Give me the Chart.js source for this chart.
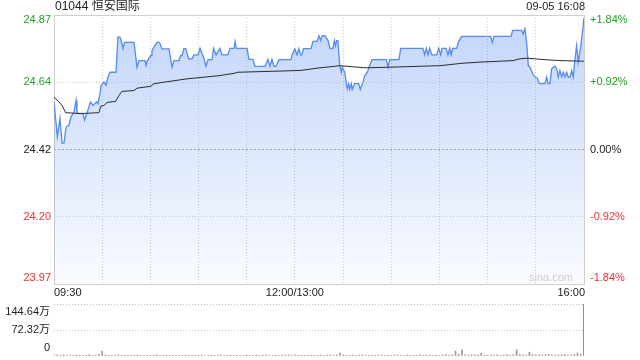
<!DOCTYPE html>
<html><head><meta charset="utf-8">
<script src="https://cdn.jsdelivr.net/npm/chart.js@4.4.1/dist/chart.umd.min.js"></script>
<style>
html,body{margin:0;padding:0;background:#fff;}
#wrap{position:relative;width:640px;height:360px;overflow:hidden;}
canvas{position:absolute;left:0;top:0;}
</style></head><body>
<div id="wrap"><canvas id="c1" width="640" height="360"></canvas><canvas id="c2" width="640" height="360"></canvas></div>
<script>
// ---- data ----
const stockTitle = '01044 恒安国际';
const stamp = '09-05 16:08';
const watermark = 'sina.com';
const prevClose = 24.42;
const pctStep = 0.0092;
const priceTickLabels = ['24.87', '24.64', '24.42', '24.20', '23.97'];
const pctTickLabels = ['+1.84%', '+0.92%', '0.00%', '-0.92%', '-1.84%'];
const timeLabels = ['09:30', '12:00/13:00', '16:00'];
const timeLabelMinutes = [0, 150, 330];
const gridMinutes = [0, 30, 60, 90, 120, 150, 180, 210, 240, 270, 300, 330];
const volTickLabels = ['144.64万', '72.32万', '0'];
const volMax = 1446400;

// minutes of trading since 09:30 (lunch break removed) and price
const priceMinutes = [0, 2.1, 3.7, 5.0, 6.2, 7.5, 9.3, 10.6, 12.5, 13.7, 14.3, 18.0, 19.0, 20.5, 22.7, 24.3, 26.5, 27.4, 28.6, 29.3,
  31.1, 32.4, 33.6, 34.9, 38.6, 39.8, 41.1, 42.3, 43.0, 43.9, 49.8, 51.7, 52.9, 56.7, 57.3, 58.2, 60.4, 61.0, 62.3, 64.1,
  65.7, 67.2, 71.6, 73.5, 74.7, 77.8, 78.8, 79.7, 80.9, 82.0, 83.9, 85.9, 87.2, 89.7, 90.9, 93.4, 94.6, 95.9, 98.4, 99.3,
  100.9, 103.3, 104.6, 108.3, 109.6, 112.1, 112.7, 113.6, 120.2, 121.4, 123.9, 125.1, 131.4, 133.2, 134.5, 135.7, 137.0, 138.2, 140.1, 147.6,
  148.2, 150.0, 151.3, 152.5, 153.5, 154.4, 155.3, 160.0, 161.3, 163.8, 165.0, 166.0, 167.0, 168.7, 170.6, 171.8, 173.7, 174.6, 175.3, 176.0,
  176.8, 177.9, 178.9, 179.5, 181.0, 182.6, 183.5, 184.1, 185.1, 185.7, 187.2, 189.7, 190.7, 192.4, 193.5, 195.1, 196.6, 198.0, 206.9, 208.0,
  209.0, 214.8, 215.9, 229.7, 230.8, 231.8, 232.9, 233.9, 235.3, 238.3, 239.5, 240.8, 241.6, 244.2, 245.3, 246.4, 247.3, 248.2, 250.7, 251.7,
  253.8, 271.9, 272.9, 274.0, 284.5, 285.6, 291.2, 292.2, 293.2, 294.3, 295.3, 296.4, 298.0, 299.5, 300.9, 302.2, 305.7, 306.7, 307.7, 308.8,
  309.9, 311.9, 313.0, 314.0, 315.0, 316.1, 317.1, 318.2, 319.2, 320.2, 321.3, 322.3, 323.3, 324.4, 325.4, 326.4, 327.9, 329.5, 330.0];
const prices = [24.579, 24.462, 24.524, 24.441, 24.441, 24.495, 24.501, 24.529, 24.545, 24.584, 24.541, 24.541, 24.518, 24.541, 24.579, 24.567, 24.579, 24.573, 24.606, 24.634,
  24.645, 24.634, 24.662, 24.678, 24.678, 24.795, 24.795, 24.774, 24.757, 24.778, 24.778, 24.695, 24.717, 24.717, 24.701, 24.717, 24.734, 24.751, 24.762, 24.778,
  24.778, 24.756, 24.756, 24.695, 24.717, 24.717, 24.734, 24.734, 24.757, 24.757, 24.723, 24.723, 24.736, 24.736, 24.758, 24.724, 24.698, 24.720, 24.720, 24.758,
  24.736, 24.758, 24.736, 24.736, 24.758, 24.758, 24.781, 24.758, 24.758, 24.721, 24.721, 24.698, 24.698, 24.721, 24.698, 24.721, 24.698, 24.698, 24.720, 24.720,
  24.736, 24.756, 24.736, 24.757, 24.736, 24.736, 24.757, 24.757, 24.781, 24.781, 24.800, 24.784, 24.800, 24.800, 24.784, 24.758, 24.758, 24.784, 24.767, 24.784,
  24.784, 24.701, 24.678, 24.695, 24.678, 24.623, 24.640, 24.621, 24.640, 24.621, 24.640, 24.640, 24.621, 24.645, 24.667, 24.678, 24.701, 24.720, 24.720, 24.695,
  24.720, 24.720, 24.758, 24.758, 24.736, 24.758, 24.736, 24.758, 24.736, 24.736, 24.758, 24.736, 24.758, 24.758, 24.736, 24.758, 24.736, 24.758, 24.758, 24.778,
  24.798, 24.798, 24.778, 24.798, 24.798, 24.818, 24.818, 24.806, 24.823, 24.778, 24.701, 24.695, 24.673, 24.662, 24.658, 24.640, 24.640, 24.662, 24.640, 24.640,
  24.690, 24.698, 24.690, 24.662, 24.684, 24.662, 24.678, 24.662, 24.678, 24.662, 24.662, 24.684, 24.662, 24.723, 24.767, 24.712, 24.762, 24.834, 24.860];

const avgMinutes = [0, 3.1, 5.0, 7.3, 16.6, 28.0, 29.1, 31.1, 33.0, 38.4, 40.5, 42.3, 49.8, 51.7, 60.2, 62.3, 82.8, 103.3, 112.7, 113.9,
  140.7, 153.2, 164.4, 178.1, 193.6, 203.0, 215.4, 240.3, 254.0, 265.2, 285.8, 290.1, 294.5, 305.7, 315.0, 330.0];
const avgPrices = [24.595, 24.579, 24.567, 24.543, 24.540, 24.543, 24.565, 24.567, 24.577, 24.581, 24.601, 24.614, 24.617, 24.625, 24.631, 24.640, 24.656, 24.667, 24.675, 24.678,
  24.682, 24.684, 24.692, 24.700, 24.693, 24.694, 24.696, 24.700, 24.708, 24.712, 24.717, 24.723, 24.725, 24.720, 24.717, 24.715];

// volume per 2-minute slot, in 万 shares (last = closing auction)
const volumes = [4.2, 3.1, 2.5, 3.6, 2.2, 2.8, 1.9, 3.3, 2.4, 2.0, 2.9, 3.8, 2.1, 2.6, 4.5,
  13.5, 3.0, 2.2, 1.8, 2.7, 3.4, 1.6, 2.3, 2.9, 1.9, 2.5, 3.1, 1.7, 2.2, 2.8,
  1.5, 2.4, 3.2, 1.8, 2.0, 2.6, 1.4, 2.9, 2.1, 1.6, 2.3, 3.0, 1.9, 2.4, 1.7,
  2.2, 2.8, 1.5, 2.0, 2.6, 1.8, 2.3, 3.3, 1.6, 2.1, 2.7, 1.9, 2.4, 1.5, 2.0,
  2.9, 1.7, 2.2, 2.6, 1.8, 2.4, 3.1, 1.6, 2.0, 2.5, 1.9, 2.3, 2.8, 3.6, 2.4,
  3.2, 2.1, 2.6, 1.8, 2.3, 2.9, 1.7, 2.2, 2.7, 1.9, 2.4, 3.0, 2.0, 2.5, 8.2,
  3.4, 2.6, 2.1, 2.8, 1.9, 2.4, 3.1, 1.8, 2.2, 2.7, 1.6, 2.3, 2.9, 2.0, 2.5,
  1.8, 2.4, 3.0, 1.7, 2.2, 2.8, 1.9, 2.5, 2.1, 3.2, 1.8, 2.3, 2.7, 2.0, 2.6,
  2.2, 3.0, 4.1, 2.4, 3.6, 13.8, 4.4, 16.9, 3.2, 2.5, 3.7, 2.8, 3.3, 8.0, 2.9,
  2.4, 3.1, 2.6, 3.5, 2.2, 2.9, 3.8, 2.7, 3.3, 17.2, 4.0, 3.0, 2.6, 10.6, 3.9,
  3.1, 4.2, 2.8, 3.5, 4.6, 3.0, 2.7, 3.8, 3.2, 4.1, 2.9, 3.4, 4.4, 8.3, 5.1,
  144.64];
const volSlotMinutes = 2;

// ---- styling ----
const FONT = '"Liberation Sans", Arial, "Noto Sans CJK SC", sans-serif';
const GREEN = '#1fa31f', RED = '#ee2f2f', DARK = '#222';
const yMin = prevClose * (1 - 2 * pctStep), yMax = prevClose * (1 + 2 * pctStep);

const framePlugin = {
  id: 'frame',
  beforeDatasetsDraw(chart) {
    const { ctx, chartArea: a } = chart;
    ctx.save();
    ctx.strokeStyle = '#cfcfcf';
    ctx.lineWidth = 1;
    ctx.strokeRect(a.left + 0.5, a.top + 0.5, a.right - a.left, a.bottom - a.top);
    ctx.restore();
  }
};

const labelPlugin = {
  id: 'labels',
  afterDraw(chart) {
    const { ctx, chartArea: a, scales } = chart;
    ctx.save();
    ctx.textBaseline = 'middle';
    ctx.font = '11px ' + FONT;
    priceTickLabels.forEach((t, i) => {
      const k = 2 - i;
      let y = scales.y.getPixelForValue(prevClose * (1 + k * pctStep));
      if (i === 0) y += 5;
      if (i === priceTickLabels.length - 1) y -= 6;
      ctx.fillStyle = k > 0 ? GREEN : (k < 0 ? RED : DARK);
      ctx.textAlign = 'right';
      ctx.fillText(t, a.left - 3, y);
      ctx.textAlign = 'left';
      ctx.fillText(pctTickLabels[i], a.right + 6, y);
    });
    ctx.fillStyle = DARK;
    timeLabels.forEach((t, i) => {
      const x = scales.x.getPixelForValue(timeLabelMinutes[i]);
      ctx.textAlign = i === 0 ? 'left' : (i === timeLabels.length - 1 ? 'right' : 'center');
      ctx.fillText(t, x + (i === timeLabels.length - 1 ? 1 : 0), a.bottom + 9);
    });
    ctx.textAlign = 'right';
    ctx.fillText(stamp, a.right + 1, 7);
    ctx.font = '12px ' + FONT;
    ctx.textAlign = 'left';
    ctx.fillText(stockTitle, a.left + 1, 7);
    ctx.font = '11px ' + FONT;
    ctx.fillStyle = '#cdcdcd';
    ctx.textAlign = 'right';
    ctx.fillText(watermark, a.right - 11, a.bottom - 6);
    ctx.restore();
  }
};

const fillGradient = (c) => {
  const a = c.chart.chartArea;
  if (!a) return 'rgba(84,139,240,0.2)';
  const g = c.chart.ctx.createLinearGradient(0, a.top, 0, a.bottom);
  g.addColorStop(0, 'rgba(84,139,240,0.36)');
  g.addColorStop(1, 'rgba(84,139,240,0.03)');
  return g;
};

new Chart(document.getElementById('c1'), {
  type: 'line',
  data: {
    datasets: [
      { data: priceMinutes.map((m, i) => ({ x: m, y: prices[i] })), borderColor: 'rgb(84,139,240)', borderWidth: 1.3,
        pointRadius: 0, fill: 'start', backgroundColor: fillGradient, tension: 0, order: 2 },
      { data: avgMinutes.map((m, i) => ({ x: m, y: avgPrices[i] })), borderColor: '#2b2b2b', borderWidth: 1,
        pointRadius: 0, fill: false, tension: 0, order: 1 }
    ]
  },
  options: {
    responsive: false, animation: false, devicePixelRatio: 1,
    layout: { padding: { top: 15, left: 0, right: 0, bottom: 0 } },
    plugins: { legend: { display: false }, tooltip: { enabled: false } },
    scales: {
      x: { type: 'linear', min: 0, max: 330,
        afterBuildTicks: s => { s.ticks = gridMinutes.map(v => ({ value: v })); },
        ticks: { display: false }, grid: { color: '#cccccc', drawTicks: false }, border: { display: false, dash: [1, 2] },
        afterFit: s => { s.height = 76; } },
      y: { position: 'left', min: yMin, max: yMax,
        afterBuildTicks: s => { s.ticks = [2, 1, 0, -1, -2].map(k => ({ value: prevClose * (1 + k * pctStep) })); },
        ticks: { display: false },
        grid: { color: c => (c.index === 2 ? '#a8a8a8' : '#cccccc'), drawTicks: false },
        border: { display: false, dash: c => (c.index === 2 ? [2, 2] : [1, 2]) },
        afterFit: s => { s.width = 54; } },
      y2: { position: 'right', min: yMin, max: yMax, ticks: { display: false }, grid: { display: false },
        border: { display: false }, afterFit: s => { s.width = 56; } }
    }
  },
  plugins: [framePlugin, labelPlugin]
});

const volLabelPlugin = {
  id: 'volLabels',
  afterDraw(chart) {
    const { ctx, chartArea: a, scales } = chart;
    ctx.save();
    ctx.font = '11px ' + FONT;
    ctx.fillStyle = DARK;
    ctx.textAlign = 'right';
    ctx.textBaseline = 'middle';
    [volMax, volMax / 2, 0].forEach((v, i) => {
      let y = scales.y.getPixelForValue(v);
      if (i === 0) y += 8;
      if (i === 2) y -= 8;
      ctx.fillText(volTickLabels[i], a.left - 4, y);
    });
    ctx.restore();
  }
};

new Chart(document.getElementById('c2'), {
  type: 'bar',
  data: {
    datasets: [{
      data: volumes.map((v, i) => ({ x: i * volSlotMinutes, y: v * 10000 })),
      backgroundColor: c => (c.dataIndex === volumes.length - 1 ? '#7a7a7a' : '#9a9a9a'),
      barThickness: 1, borderWidth: 0
    }]
  },
  options: {
    responsive: false, animation: false, devicePixelRatio: 1,
    layout: { padding: { top: 304, bottom: 4, left: 0, right: 56 } },
    plugins: { legend: { display: false }, tooltip: { enabled: false } },
    scales: {
      x: { type: 'linear', min: 0, max: 330, offset: false, display: false },
      y: { min: 0, max: volMax,
        afterBuildTicks: s => { s.ticks = [{ value: 0 }, { value: volMax / 2 }, { value: volMax }]; },
        ticks: { display: false },
        grid: { color: c => (c.tick && c.tick.value === 0 ? 'rgba(0,0,0,0)' : '#c4c4c4'), drawTicks: false },
        border: { display: false, dash: [1, 2] },
        afterFit: s => { s.width = 54; } }
    }
  },
  plugins: [volLabelPlugin]
});
</script>
</body></html>
